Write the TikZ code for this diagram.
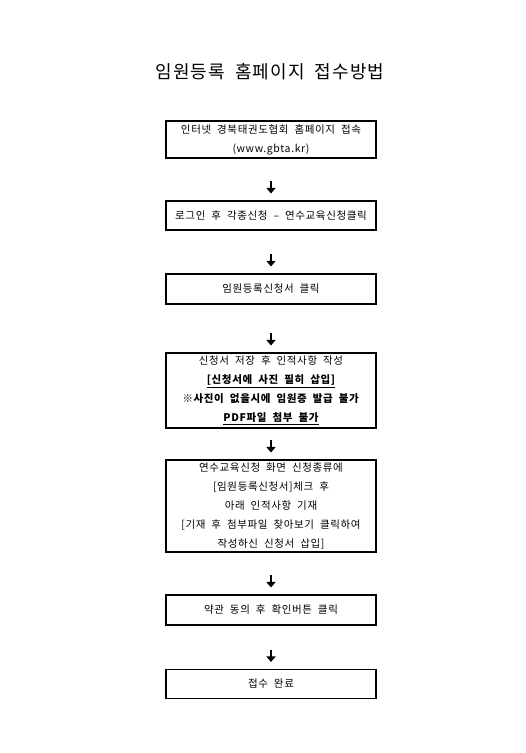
\documentclass[tikz,border=0pt]{standalone}
\usepackage{fontspec}
\setmainfont[WordSpace=2, LetterSpace=6]{Noto Sans CJK KR}
\usetikzlibrary{arrows.meta, positioning, calc}
\newcommand{\flowbox}[4]{%
  \node[draw, line width=1.1pt, minimum width=210pt, minimum height=#3pt,
        inner sep=0pt, align=center,
        font=\fontsize{10.5}{19}\selectfont] (#1) at (271,#2) {#4};
}
\newcommand{\flowstep}[2]{%
  \coordinate (#2-in) at ($(#2.north)+(0,-19)$);
  \draw[-{Triangle[width=9pt,length=5.5pt]}, line width=2.8pt,
        shorten >=7pt] (#2-in) -- (#2);
}

\begin{document}
\begin{tikzpicture}[x=1pt, y=-1pt]
    \useasboundingbox (0,0) rectangle (526,753);
    \node[font=\fontsize{18}{20}\selectfont] (title) at (270,72)
      {임원등록 홈페이지 접수방법};
    \flowbox{connect}{139.5}{37}{인터넷 경북태권도협회 홈페이지 접속\\(www.gbta.kr)}
    \flowbox{login}{215.5}{29}{로그인 후 각종신청 -- 연수교육신청클릭}
    \flowbox{apply}{289}{30}{임원등록신청서 클릭}
    \flowbox{write}{390.5}{75}{신청서 저장 후 인적사항 작성\\
      \textbf{\underline{[신청서에 사진 필히 삽입]}}\\
      \textbf{※사진이 없을시에 임원증 발급 불가}\\
      \textbf{\underline{PDF파일 첨부 불가}}}
    \flowbox{attach}{506}{92}{연수교육신청 화면 신청종류에\\{}%
      [임원등록신청서]체크 후\\
      아래 인적사항 기재\\{}%
      [기재 후 첨부파일 찾아보기 클릭하여\\
      작성하신 신청서 삽입]}
    \flowbox{agree}{610}{30}{약관 동의 후 확인버튼 클릭}
    \flowbox{done}{684}{29}{접수 완료}
    % arrows between the steps
    \foreach \nxt in {login, apply, write, attach, agree, done}
      {\flowstep{}{\nxt}}
  \end{tikzpicture}
\end{document}
